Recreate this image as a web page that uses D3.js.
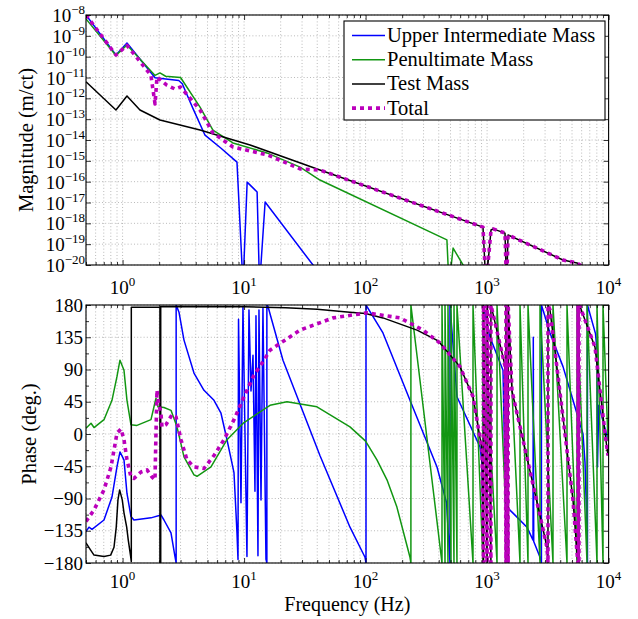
<!DOCTYPE html>
<html><head><meta charset="utf-8">
<script src="https://cdn.jsdelivr.net/npm/d3@7"></script>
<style>
body{margin:0;background:#fff;}
text{font-family:"Liberation Serif","Times New Roman",serif;fill:#000;}
</style>
</head><body>
<svg id="chart" width="638" height="619" font-family="Liberation Serif, Times New Roman, serif"></svg>
<script>
// ---------- data ----------
const freqDomain = [0.5, 10000];
const magDomain = [1e-20, 1e-8];
const phaseDomain = [-180, 180];
const freqTickExps = [0, 1, 2, 3, 4];
const magTickExps = [-8, -9, -10, -11, -12, -13, -14, -15, -16, -17, -18, -19, -20];
const phaseTicks = [-180, -135, -90, -45, 0, 45, 90, 135, 180];
const phaseMinorTicks = [-157.5, -112.5, -67.5, -22.5, 22.5, 67.5, 112.5, 157.5];
const seriesNames = ["Upper Intermediate Mass", "Penultimate Mass", "Test Mass", "Total"];
const seriesColors = ["#0000ff", "#129612", "#000000", "#bb00bb"];

// magnitude [Hz, m/ct]
const uimMag = [[0.5,1e-8],[0.882,1.2e-10],[1.087,4.5e-10],[1.85,9.8e-12],[2.9,7.2e-12],[3.1,5e-12],[3.8,3.2e-13],[4.77,1.7e-14],[6.5,3.9e-15],[8.74,8.7e-16],[9.8,1e-21],[10.6,9.5e-17],[12.8,3.2e-17],[13.4,1e-21],[14.9,1.05e-17],[36.9,1e-20],[50,1e-21]];
const pumMag = [[0.5,6.5e-9],[0.882,1.15e-10],[1.087,3.6e-10],[1.85,1.26e-11],[2.03,1.66e-11],[2.26,1.15e-11],[3.0,1.0e-11],[4.34,3.8e-13],[5.54,3.0e-14],[8.1,7.2e-15],[15.4,2.4e-15],[28.9,5.0e-16],[42.1,1.2e-16],[467,1.6e-19],[486,1e-21],[525,6.5e-20],[634,1e-20],[680,1e-21]];
const tmMag = [[0.5,6.3e-12],[0.882,2.75e-13],[1.087,1.3e-12],[1.39,2.75e-13],[2.03,9.1e-14],[4.34,3.0e-14],[11.2,5.75e-15],[42.1,3.6e-16],[925,6.6e-19],[979,1e-21],[1077,4.8e-19],[1120,5.4e-19],[1404,3.4e-19],[1446,1e-21],[1488,2.75e-19],[4215,1.74e-20],[5495,1.26e-20],[6000,8.9e-21]];
const totMag = [[0.5,1e-8],[0.882,1.2e-10],[1.087,3.5e-10],[1.71,1.3e-11],[1.85,5.4e-13],[1.92,1.05e-11],[2.3,4.4e-12],[2.7,2.8e-12],[3.0,3.5e-12],[4.34,2.75e-13],[5.54,2.2e-14],[8.1,4.6e-15],[15.7,1.9e-15],[28.9,4.1e-16],[42.1,3.6e-16],[925,6.6e-19],[979,1e-21],[1077,4.8e-19],[1120,5.4e-19],[1404,3.4e-19],[1446,1e-21],[1488,2.75e-19],[4215,1.74e-20],[5495,1.26e-20],[6000,8.9e-21]];

// phase [Hz, deg]
const uimPhase = [[0.5,-136],[0.529,-130],[0.56,-133],[0.703,-120],[0.818,-88],[0.899,-46],[0.952,-25],[1.027,-36],[1.087,-83],[1.172,-115],[1.241,-120],[1.713,-117],[2.07,-113],[2.191,-120],[2.503,-138],[2.70,-171],[2.76,-180],[2.76,180],[2.912,170],[3.202,131],[3.869,85],[4.677,61],[5.653,47],[6.455,29],[7.234,-8],[8.259,-54],[8.743,-138],[8.911,-175],[9.0,160],[9.43,-96],[9.79,178],[10.56,-171],[10.97,173],[11.4,60],[11.84,110],[12.29,-80],[12.53,165],[13.01,-170],[13.26,173],[13.78,-92],[14.3,175],[15.14,-175],[15.4,-180],[15.4,180],[15.73,178],[20.9,103],[42.1,-30],[74.4,-130],[98.9,-172],[100.8,-180],[100.8,180],[139,141],[232,47],[387,-46],[464,-96],[495,-180],[495,180],[565,52],[874,-18],[908,-40],[930,-180],[930,180],[1057,135],[1352,89],[1420,-100],[1763,-116],[2130,-130],[2387,-148],[2400,135],[2420,-150],[2726,-172],[2800,-180],[2800,180],[2885,173],[3294,141],[4215,94],[5093,47],[6157,0],[6395,-40],[6643,-134],[6700,-180],[6700,180],[7800,140],[8027,117],[8100,-46],[8300,40],[9888,-8]];
const pumPhase = [[0.5,8],[0.55,15],[0.582,9],[0.703,20],[0.818,47],[0.899,80],[0.952,103],[1.027,89],[1.087,47],[1.172,13],[1.314,12],[1.713,20],[1.813,38],[1.883,50],[1.956,38],[2.191,37],[2.503,33],[2.804,10],[3.202,-32],[3.869,-57],[4.097,-59],[5.341,-46],[7.234,-8],[9.98,16],[16.34,40],[22.55,45],[39.8,38],[74.4,10],[100,-10],[124,-36],[150,-64],[181,-102],[232,-172],[236,-180],[236,180],[425.5,-180],[425.5,180],[450.4,-180],[450.4,180],[476.6,-180],[476.6,180],[504.7,-180],[504.7,180],[534,-180],[534,180],[565,-180],[565,180],[765.6,-180],[765.6,180],[925,-180],[925,180],[1207,-180],[1207,180],[1486,-180],[1486,180],[1866,-180],[1866,180],[2171,-180],[2171,180],[2726,-180],[2726,180],[3486,-180],[3486,180],[4546,-180],[4546,180],[5495,-180],[5495,180],[6643,-180],[6643,180],[8027,-180],[8027,180],[8994,-180],[8994,180],[9888,-10]];
const tmPhase = [[0.5,-152],[0.546,-162],[0.582,-169],[0.703,-171],[0.798,-169],[0.85,-158],[0.887,-130],[0.916,-92],[0.946,-78],[0.994,-92],[1.027,-110],[1.081,-130],[1.114,-148],[1.166,-171],[1.18,-178],[1.18,177],[2.03,177],[2.03,-180],[2.06,-180],[2.06,178],[10,177.5],[22,176],[40,174],[74,170],[100,168],[139,162],[265,145],[385,131],[409,127],[598,94],[766,52],[842,11],[908,-22],[935,-180],[935,180],[965,0],[1000,-180],[1000,180],[1040,0],[1075,-180],[1075,180],[1118,168],[1277,125],[1404,95],[1430,-180],[1430,180],[1490,-180],[1490,180],[1603,60],[2130,-33],[2726,-114],[3112,-158],[3171,-180],[3171,180],[3294,173],[5093,-92],[5495,-165],[5600,-180],[5600,180],[5700,-180],[5700,180],[5817,178],[7731,121],[9341,1],[9888,-30]];
const totPhase = [[0.5,-122],[0.582,-106],[0.703,-78],[0.803,-46],[0.899,1],[0.97,7],[1.027,-8],[1.087,-36],[1.172,-60],[1.241,-62],[1.417,-53],[1.588,-50],[1.746,-60],[1.848,-64],[1.883,1],[1.919,61],[1.956,47],[2.07,29],[2.11,10],[2.276,13],[2.551,27],[2.751,24],[3.025,-8],[3.388,-36],[3.869,-46],[4.677,-48],[5.653,-30],[6.832,-8],[8.259,20],[9.98,52],[12.05,82],[14.58,103],[16.34,117],[28.9,145],[53.9,162],[102.7,169],[191.9,162],[296.8,145],[409,127],[598,94],[766,52],[842,11],[908,-22],[935,-180],[935,180],[965,0],[1000,-180],[1000,180],[1040,0],[1075,-180],[1075,180],[1118,168],[1277,125],[1404,95],[1430,-180],[1430,180],[1490,-180],[1490,180],[1603,60],[2130,-33],[2726,-114],[3112,-158],[3171,-180],[3171,180],[3294,173],[5093,-92],[5495,-165],[5600,-180],[5600,180],[5700,-180],[5700,180],[5817,178],[7731,121],[9341,1],[9888,-30]];

// ---------- layout ----------
const L = 86, R = 608.6;
const magT = 15, magB = 265, phT = 305, phB = 563;

const svg = d3.select("#chart");
const x = d3.scaleLog().domain(freqDomain).range([L, R]);
const yMag = d3.scaleLog().domain(magDomain).range([magB, magT]);
const yPh = d3.scaleLinear().domain(phaseDomain).range([phB, phT]);

const majorF = freqTickExps.map(e => Math.pow(10, e));
const minorF = [];
for (let e = -1; e <= 3; e++) for (let k = 2; k <= 9; k++) {
  const f = k * Math.pow(10, e);
  if (f >= freqDomain[0] && f <= freqDomain[1]) minorF.push(f);
}
const allF = majorF.concat(minorF);
const magTicks = magTickExps.map(e => Math.pow(10, e));

const defs = svg.append("defs");
defs.append("clipPath").attr("id", "clipMag").append("rect")
  .attr("x", L).attr("y", magT).attr("width", R - L).attr("height", magB - magT);
defs.append("clipPath").attr("id", "clipPh").append("rect")
  .attr("x", L).attr("y", phT).attr("width", R - L).attr("height", phB - phT);

function grid(T, B, yScale, yVals) {
  const g = svg.append("g").attr("stroke", "#a8a8a8").attr("stroke-width", 0.8)
    .attr("stroke-dasharray", "1,2.2");
  g.selectAll(".gv").data(allF).enter().append("line")
    .attr("x1", d => x(d)).attr("x2", d => x(d)).attr("y1", T).attr("y2", B);
  g.selectAll(".gh").data(yVals).enter().append("line")
    .attr("x1", L).attr("x2", R).attr("y1", d => yScale(d)).attr("y2", d => yScale(d));
}

function axes(T, B, yScale, yMajor, yMinor) {
  const cfg = ax => ax.tickFormat("").tickSizeOuter(0);
  const rm = g => { g.select(".domain").remove(); g.selectAll("line").attr("stroke-width", 0.8); };
  svg.append("g").attr("transform", `translate(0,${B})`).call(cfg(d3.axisBottom(x).tickValues(majorF).tickSizeInner(-5))).call(rm);
  svg.append("g").attr("transform", `translate(0,${B})`).call(cfg(d3.axisBottom(x).tickValues(minorF).tickSizeInner(-3))).call(rm);
  svg.append("g").attr("transform", `translate(0,${T})`).call(cfg(d3.axisTop(x).tickValues(majorF).tickSizeInner(-5))).call(rm);
  svg.append("g").attr("transform", `translate(0,${T})`).call(cfg(d3.axisTop(x).tickValues(minorF).tickSizeInner(-3))).call(rm);
  svg.append("g").attr("transform", `translate(${L},0)`).call(cfg(d3.axisLeft(yScale).tickValues(yMajor).tickSizeInner(-5))).call(rm);
  svg.append("g").attr("transform", `translate(${R},0)`).call(cfg(d3.axisRight(yScale).tickValues(yMajor).tickSizeInner(-5))).call(rm);
  if (yMinor) {
    svg.append("g").attr("transform", `translate(${L},0)`).call(cfg(d3.axisLeft(yScale).tickValues(yMinor).tickSizeInner(-3))).call(rm);
    svg.append("g").attr("transform", `translate(${R},0)`).call(cfg(d3.axisRight(yScale).tickValues(yMinor).tickSizeInner(-3))).call(rm);
  }
  svg.append("rect").attr("x", L).attr("y", T).attr("width", R - L).attr("height", B - T)
    .attr("fill", "none").attr("stroke", "#000").attr("stroke-width", 1.1);
}

function pow10Label(px, py, exp, anchor) {
  const t = svg.append("text").attr("x", px).attr("y", py).attr("text-anchor", anchor).attr("font-size", 19);
  t.append("tspan").text("10");
  t.append("tspan").attr("dy", -8).attr("font-size", 13).text(exp < 0 ? "\u2212" + (-exp) : String(exp));
}

function drawSeries(clip, yScale, data, i) {
  const line = d3.line().x(d => x(d[0])).y(d => yScale(d[1]));
  const p = svg.append("g").attr("clip-path", `url(#${clip})`).append("path")
    .datum(data).attr("d", line).attr("fill", "none")
    .attr("stroke", seriesColors[i]).attr("stroke-linejoin", "round");
  if (i === 3) p.attr("stroke-width", 3.6).attr("stroke-dasharray", "4,4");
  else p.attr("stroke-width", 1.5);
}

// ---------- magnitude panel ----------
svg.append("rect").attr("x", L).attr("y", magT).attr("width", R - L).attr("height", magB - magT).attr("fill", "#fff");
grid(magT, magB, yMag, magTicks);
[uimMag, pumMag, tmMag, totMag].forEach((d, i) => drawSeries("clipMag", yMag, d, i));
axes(magT, magB, yMag, magTicks, null);
magTickExps.forEach(e => pow10Label(85, yMag(Math.pow(10, e)) + 7, e, "end"));
freqTickExps.forEach(e => pow10Label(x(Math.pow(10, e)), 294, e, "middle"));
svg.append("text").attr("transform", `translate(33,${(magT + magB) / 2}) rotate(-90)`)
  .attr("text-anchor", "middle").attr("font-size", 20.5).text("Magnitude (m/ct)");

// legend
const lg = svg.append("g");
lg.append("rect").attr("x", 344).attr("y", 21).attr("width", 261).attr("height", 99)
  .attr("fill", "#fff").attr("stroke", "#000").attr("stroke-width", 1.1);
seriesNames.forEach((n, i) => {
  const yy = 35.5 + i * 24.2;
  const ln = lg.append("line").attr("x1", 352).attr("x2", 385).attr("y1", yy).attr("y2", yy)
    .attr("stroke", seriesColors[i]);
  if (i === 3) ln.attr("stroke-width", 3.6).attr("stroke-dasharray", "4,4");
  else ln.attr("stroke-width", 1.5);
  lg.append("text").attr("x", 387).attr("y", yy + 6.5).attr("font-size", 20.5).text(n);
});

// ---------- phase panel ----------
svg.append("rect").attr("x", L).attr("y", phT).attr("width", R - L).attr("height", phB - phT).attr("fill", "#fff");
grid(phT, phB, yPh, phaseTicks);
[uimPhase, pumPhase, tmPhase, totPhase].forEach((d, i) => drawSeries("clipPh", yPh, d, i));
axes(phT, phB, yPh, phaseTicks, phaseMinorTicks);
phaseTicks.forEach(v => svg.append("text").attr("x", 83).attr("y", yPh(v) + 6.5)
  .attr("text-anchor", "end").attr("font-size", 19).text(v < 0 ? "\u2212" + (-v) : String(v)));
freqTickExps.forEach(e => pow10Label(x(Math.pow(10, e)), 588, e, "middle"));
svg.append("text").attr("transform", `translate(36,${(phT + phB) / 2}) rotate(-90)`)
  .attr("text-anchor", "middle").attr("font-size", 20.5).text("Phase (deg.)");
svg.append("text").attr("x", (L + R) / 2).attr("y", 611).attr("text-anchor", "middle")
  .attr("font-size", 20).text("Frequency (Hz)");
</script>
</body></html>
